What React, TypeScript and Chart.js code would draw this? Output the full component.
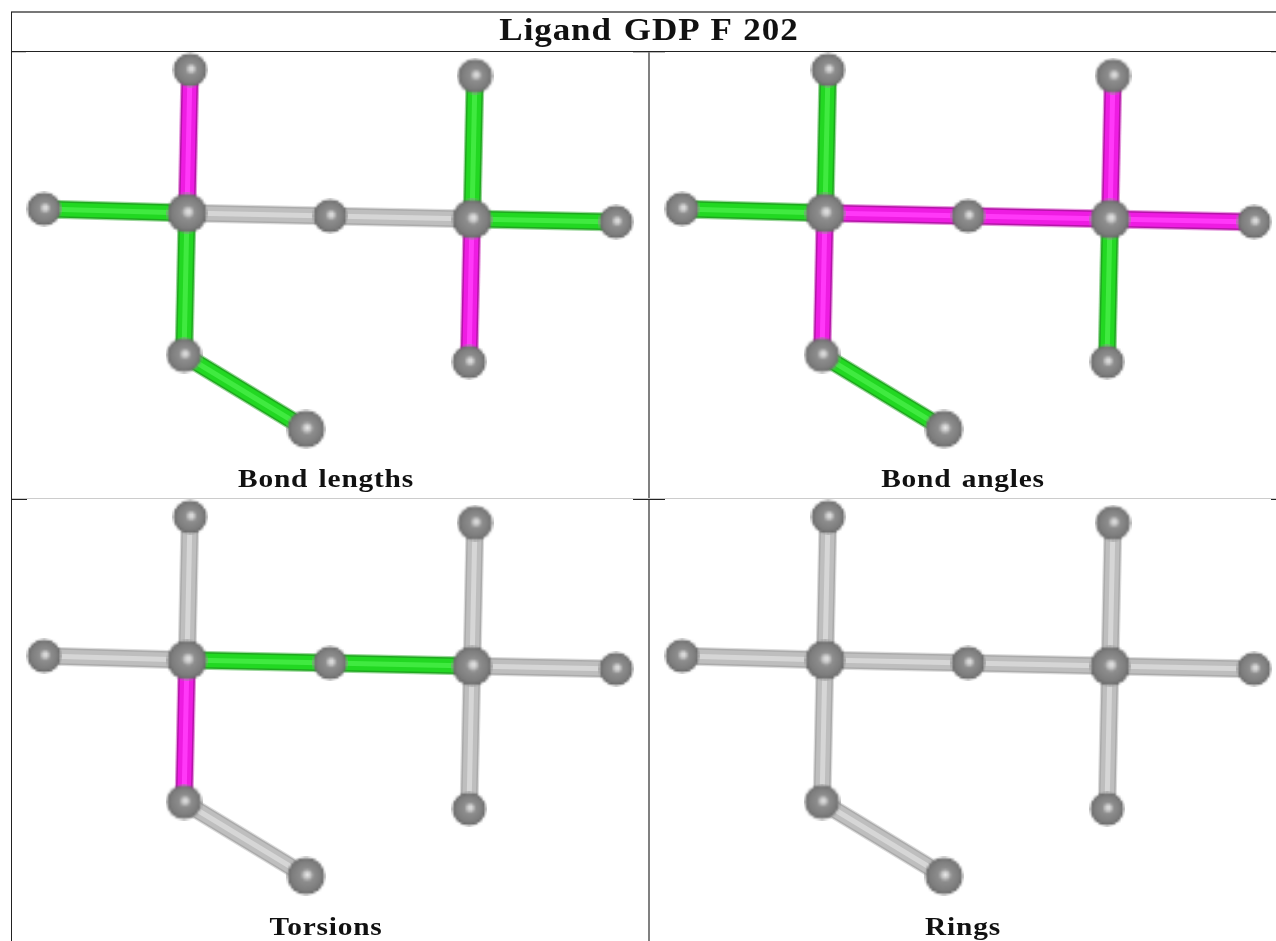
import React, { useEffect, useRef } from "react";
import { Chart, registerables } from "chart.js";

Chart.register(...registerables);

const W = 1276;
const H = 941;

const title = "Ligand GDP F 202";
const panelNames = ["Bond lengths", "Bond angles", "Torsions", "Rings"];

// atom positions in the first panel
const atomX = [190, 475, 44, 187, 330, 472, 616, 184, 469, 306];
const atomY = [70, 76, 209, 213, 216, 219, 222, 355, 362, 429];
const atomSize = [17, 17.5, 17, 20, 17, 20, 17, 17.5, 17, 19];

const bondFrom = [0, 2, 3, 4, 1, 5, 5, 3, 7];
const bondTo = [3, 3, 4, 5, 5, 6, 8, 7, 9];

const panelDx = [0, 638, 0, 638];
const panelDy = [0, 0, 447, 447];

const bondLengths = ["m", "g", "n", "n", "g", "g", "m", "g", "g"];
const bondAngles = ["g", "g", "m", "m", "m", "m", "g", "m", "g"];
const torsions = ["n", "n", "g", "g", "n", "n", "n", "m", "n"];
const rings = ["n", "n", "n", "n", "n", "n", "n", "n", "n"];
const panelKinds = [bondLengths, bondAngles, torsions, rings];

const palette: Record<string, string[]> = {
  g: ["rgba(130,205,130,0.8)", "#1fa81f", "#22d822", "#40ea40"],
  m: ["rgba(222,130,212,0.8)", "#b414a8", "#ee1ce2", "#ff38f8"],
  n: ["#dcdcdc", "#ababab", "#bebebe", "#d6d6d6"],
};
const layerWidths = [19, 16.5, 13.5, 5];

function sphere(r: number): HTMLCanvasElement {
  // drawn small and enlarged, for the soft low-resolution look of the reference
  const scale = 2.5;
  const c = document.createElement("canvas");
  const size = Math.ceil(r * 2 + 2);
  c.width = size;
  c.height = size;
  const small = document.createElement("canvas");
  small.width = Math.ceil(size / scale);
  small.height = Math.ceil(size / scale);
  const s = small.getContext("2d")!;
  s.scale(small.width / size, small.height / size);
  const m = size / 2;
  const grad = s.createRadialGradient(m + 1.5, m - 1.5, 0, m, m, r);
  grad.addColorStop(0, "#ececec");
  grad.addColorStop(0.18, "#c6c6c6");
  grad.addColorStop(0.34, "#8e8e8e");
  grad.addColorStop(0.8, "#7c7c7c");
  grad.addColorStop(0.95, "#686868");
  grad.addColorStop(1, "#969696");
  s.fillStyle = grad;
  s.beginPath();
  s.arc(m, m, r, 0, Math.PI * 2);
  s.fill();
  const g = c.getContext("2d")!;
  g.imageSmoothingEnabled = true;
  g.drawImage(small, 0, 0, size, size);
  return c;
}

const serif = "'Liberation Serif', serif";

function Text({ x, y, size, spacing, children }: any) {
  return (
    <div
      style={{
        position: "absolute",
        left: x - 320,
        width: 640,
        top: y,
        textAlign: "center",
        fontFamily: serif,
        fontWeight: 700,
        fontSize: size,
        lineHeight: "30px",
        letterSpacing: spacing,
        wordSpacing: 2,
        color: "#111",
        whiteSpace: "nowrap",
        transform: "scaleX(1.13)",
      }}
    >
      {children}
    </div>
  );
}

function Rule({ l, t, w, h, c }: any) {
  return <div style={{ position: "absolute", left: l, top: t, width: w, height: h, background: c }} />;
}

export default function App() {
  const ref = useRef<HTMLCanvasElement>(null);
  useEffect(() => {
    const sprites = atomSize.map(sphere);
    const datasets: any[] = [];
    panelKinds.forEach((kinds, p) => {
      const dx = panelDx[p];
      const dy = panelDy[p];
      kinds.forEach((k, b) => {
        const pts = [bondFrom[b], bondTo[b]].map((a) => ({ x: atomX[a] + dx, y: atomY[a] + dy }));
        layerWidths.forEach((lw, l) => {
          datasets.push({
            data: pts,
            showLine: true,
            borderColor: palette[k][l],
            borderWidth: lw,
            borderCapStyle: "butt",
            pointRadius: 0,
            order: 4 - l,
          });
        });
      });
      datasets.push({
        data: atomX.map((x, i) => ({ x: x + dx, y: atomY[i] + dy })),
        showLine: false,
        pointStyle: sprites,
        pointRadius: atomSize,
        order: 0,
      });
    });
    const chart = new Chart(ref.current!, {
      type: "scatter",
      data: { datasets },
      options: {
        animation: false,
        responsive: false,
        devicePixelRatio: 1,
        layout: { padding: 0, autoPadding: false },
        plugins: { legend: { display: false }, tooltip: { enabled: false }, title: { display: false } },
        scales: {
          x: { type: "linear", min: 0, max: W, display: false },
          y: { type: "linear", min: 0, max: H, reverse: true, display: false },
        },
      },
    });
    return () => chart.destroy();
  }, []);
  return (
    <div style={{ position: "fixed", inset: 0, overflow: "hidden", background: "#fff" }}>
      <canvas ref={ref} width={W} height={H} style={{ position: "absolute", left: 0, top: 0, width: W, height: H }} />
      <Rule l={11} t={11} w={1265} h={2} c="#777" />
      <Rule l={11} t={12} w={1} h={929} c="#222" />
      <Rule l={11} t={51} w={1265} h={1} c="#222" />
      <Rule l={12} t={52} w={14} h={1} c="#ccc" />
      <Rule l={633} t={52} w={32} h={1} c="#bbb" />
      <Rule l={1271} t={52} w={5} h={1} c="#ccc" />
      <Rule l={648} t={52} w={2} h={889} c="#808080" />
      <Rule l={12} t={498} w={1264} h={1} c="#ccc" />
      <Rule l={12} t={499} w={15} h={1} c="#222" />
      <Rule l={633} t={499} w={32} h={1} c="#222" />
      <Rule l={1271} t={499} w={5} h={1} c="#222" />
      <Text x={649} y={15} size={31} spacing={0.8}>{title}</Text>
      <Text x={326} y={464} size={26} spacing={0.7}>{panelNames[0]}</Text>
      <Text x={963} y={464} size={26} spacing={0.7}>{panelNames[1]}</Text>
      <Text x={326} y={912} size={26} spacing={0.7}>{panelNames[2]}</Text>
      <Text x={963} y={912} size={26} spacing={0.7}>{panelNames[3]}</Text>
    </div>
  );
}
